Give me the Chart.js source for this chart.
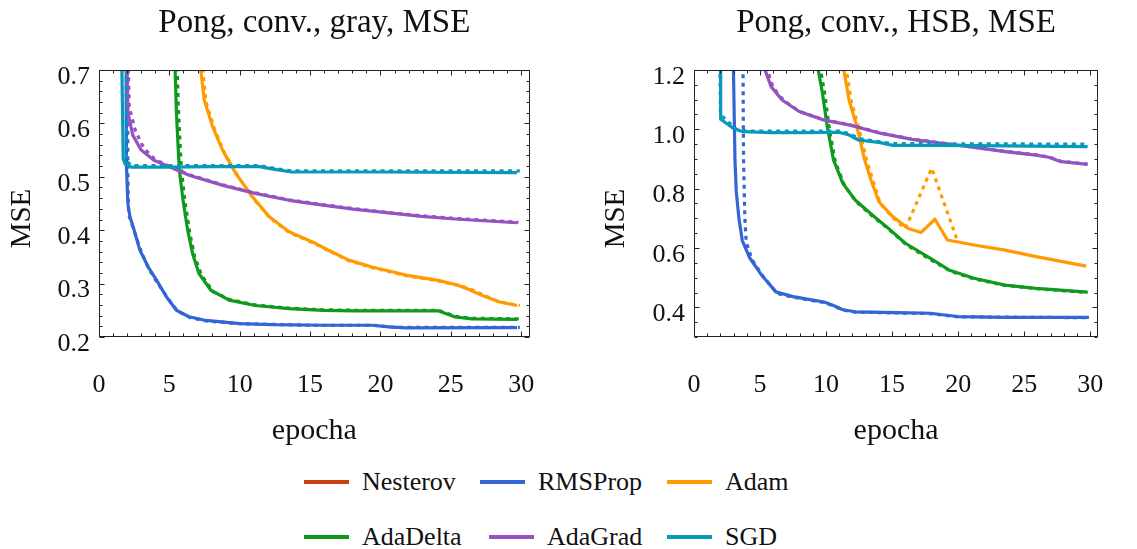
<!DOCTYPE html>
<html>
<head>
<meta charset="utf-8">
<script src="https://cdn.jsdelivr.net/npm/chart.js@4.4.1/dist/chart.umd.min.js"></script>
<style>
  html, body { margin: 0; padding: 0; background: #fff; overflow: hidden; }
  #wrap { position: relative; width: 1137px; height: 549px; font-family: "Liberation Serif", serif; }
  canvas { position: absolute; top: 0; }
  #c1 { left: 0; }
  #c2 { left: 568px; }
  .item { position: absolute; display: flex; align-items: center; height: 30px; font-size: 26px; color: #111; white-space: nowrap; }
  .item .line { display: inline-block; width: 45px; height: 3.5px; margin-right: 13px; }
</style>
</head>
<body>
<div id="wrap">
  <canvas id="c1" width="568" height="460"></canvas>
  <canvas id="c2" width="569" height="460"></canvas>
  <div id="legend"></div>
</div>
<script>
// legend
const methods = ['Nesterov', 'RMSProp', 'Adam', 'AdaDelta', 'AdaGrad', 'SGD'];
const colors = ['#c9400c', '#3366d4', '#ff9a00', '#0f9a1f', '#9553c1', '#0799b9'];

// axes
const epochTicks = [0, 5, 10, 15, 20, 25, 30];
const grayTicks = [0.2, 0.3, 0.4, 0.5, 0.6, 0.7];
const hsbTicks = [0.4, 0.6, 0.8, 1.0, 1.2];

// Pong, conv., gray -- [epoch, MSE], solid and dotted
const grayRMSProp = [[1.9,1.0],[1.95,0.52],[2.05,0.45],[2.2,0.425],[2.5,0.4],[2.9,0.363],[3.5,0.331],[4.1,0.306],[4.8,0.275],[5.5,0.25],[6.4,0.238],[7.6,0.231],[10,0.225],[12.3,0.223],[15.9,0.222],[19.4,0.222],[20.6,0.219],[21.8,0.217],[29.7,0.2175]];
const grayRMSPropDot = [[2.0,1.0],[2.05,0.5],[2.1,0.43],[2.6,0.39],[3.0,0.36],[3.5,0.33],[4.1,0.303],[4.9,0.272],[5.6,0.248],[6.5,0.236],[7.6,0.23],[10,0.225],[15,0.222],[19.5,0.222],[21,0.218],[29.9,0.218]];
const grayAdam = [[7.0,0.75],[7.48,0.644],[8.07,0.594],[8.78,0.55],[9.73,0.506],[10.9,0.4625],[12.1,0.425],[13.5,0.397],[15.4,0.375],[16.3,0.3625],[17.75,0.344],[19.4,0.331],[21.8,0.316],[24.1,0.306],[25.5,0.297],[26.2,0.29],[27.2,0.278],[28.4,0.266],[29.7,0.259]];
const grayAdamDot = [[7.2,0.75],[7.6,0.64],[8.2,0.59],[8.9,0.545],[9.9,0.5],[11,0.458],[12.2,0.422],[13.5,0.396],[15.4,0.374],[16.3,0.362],[17.75,0.343],[19.4,0.33],[21.8,0.315],[24.1,0.305],[25.5,0.297],[26.2,0.292],[27.2,0.28],[28.4,0.266],[29.9,0.259]];
const grayAdaDelta = [[5.3,0.8],[5.5,0.62],[5.7,0.515],[5.95,0.46],[6.3,0.4],[6.65,0.356],[7.1,0.319],[7.95,0.2875],[9.25,0.269],[11.1,0.259],[13.5,0.253],[15.9,0.25],[18.2,0.249],[24.1,0.249],[25.3,0.2375],[26.5,0.234],[29.7,0.233]];
const grayAdaDeltaDot = [[5.45,0.8],[5.65,0.62],[5.85,0.515],[6.1,0.455],[6.45,0.395],[6.8,0.35],[7.3,0.315],[8.1,0.285],[9.3,0.27],[11.1,0.26],[13.5,0.254],[15.9,0.251],[18.2,0.25],[24.1,0.25],[25.3,0.239],[26.5,0.235],[29.9,0.234]];
const grayAdaGrad = [[1.95,0.75],[2.05,0.621],[2.4,0.578],[3.0,0.55],[3.9,0.531],[5.0,0.519],[6.4,0.503],[8.8,0.484],[11.1,0.469],[13.5,0.456],[15.9,0.447],[18.2,0.439],[20.6,0.4325],[22.9,0.426],[25.3,0.421],[29.7,0.414]];
const grayAdaGradDot = [[2.05,0.75],[2.15,0.63],[2.6,0.585],[3.2,0.553],[4.0,0.532],[5.0,0.52],[6.4,0.504],[8.8,0.485],[11.1,0.47],[13.5,0.457],[15.9,0.448],[18.2,0.44],[20.6,0.433],[22.9,0.427],[25.3,0.422],[29.8,0.415]];
const graySGD = [[1.6,0.75],[1.72,0.534],[1.85,0.524],[2.3,0.518],[5,0.518],[8,0.519],[11.4,0.519],[12.5,0.514],[13.7,0.509],[20,0.509],[29.7,0.508]];
const graySGDDot = [[1.93,0.75],[1.95,0.53],[2.3,0.521],[11.4,0.521],[12.6,0.515],[13.7,0.511],[29.9,0.511]];

// Pong, conv., HSB
const hsbRMSProp = [[2.95,1.3],[3.1,0.9],[3.2,0.79],[3.4,0.7],[3.65,0.626],[4.2,0.568],[5.13,0.508],[6.2,0.452],[7.5,0.436],[8.9,0.425],[9.85,0.418],[10.56,0.406],[11.27,0.392],[12.2,0.385],[15.3,0.382],[17.9,0.38],[18.8,0.375],[20.0,0.369],[23.55,0.366],[29.9,0.366]];
const hsbRMSPropDot = [[3.7,1.3],[3.75,0.9],[3.85,0.7],[3.95,0.62],[4.4,0.56],[5.3,0.5],[6.3,0.447],[7.5,0.434],[8.9,0.423],[9.85,0.416],[10.56,0.405],[11.27,0.391],[12.2,0.384],[15.3,0.381],[17.9,0.379],[18.8,0.374],[20,0.368],[29.9,0.365]];
const hsbAdam = [[10.95,1.3],[11.74,1.099],[12.33,1.009],[12.92,0.897],[13.4,0.829],[14.0,0.756],[15.05,0.706],[16.23,0.666],[17.18,0.652],[18.24,0.697],[19.19,0.627],[21.2,0.61],[23.55,0.593],[25.9,0.571],[29.7,0.539]];
const hsbAdamDot = [[11.2,1.3],[11.9,1.095],[12.5,1.0],[13.1,0.89],[13.6,0.82],[14.1,0.75],[15.1,0.7],[16.0,0.665],[18.0,0.869],[19.9,0.63]];
const hsbAdaDelta = [[9.0,1.3],[9.73,1.121],[10.09,1.009],[10.56,0.897],[11.27,0.818],[12.2,0.762],[13.63,0.706],[14.57,0.672],[16.0,0.616],[17.9,0.565],[19.3,0.526],[21.2,0.498],[23.55,0.475],[25.9,0.464],[29.8,0.451]];
const hsbAdaDeltaDot = [[9.2,1.3],[9.9,1.12],[10.25,1.0],[10.7,0.89],[11.4,0.81],[12.3,0.755],[13.7,0.7],[14.7,0.665],[16.1,0.61],[18,0.558],[19.4,0.522],[21.2,0.496],[23.55,0.474],[25.9,0.463],[29.8,0.45]];
const hsbAdaGrad = [[5.1,1.27],[5.38,1.2],[5.84,1.144],[6.67,1.099],[7.96,1.06],[9.85,1.031],[11.74,1.015],[14.1,0.987],[16.5,0.966],[18.8,0.953],[21.2,0.939],[23.55,0.925],[25.9,0.913],[26.86,0.906],[27.8,0.891],[29.8,0.882]];
const hsbAdaGradDot = [[5.3,1.27],[5.55,1.2],[6.0,1.14],[6.8,1.097],[8,1.06],[9.85,1.032],[11.74,1.016],[14.1,0.988],[16.5,0.967],[18.8,0.954],[21.2,0.94],[23.55,0.926],[25.9,0.914],[26.86,0.907],[27.8,0.892],[29.8,0.883]];
const hsbSGD = [[2.0,1.3],[2.02,1.034],[3.0,1.003],[3.71,0.992],[5.84,0.989],[8.2,0.989],[10.1,0.99],[11.0,0.99],[11.74,0.981],[12.45,0.964],[14.1,0.955],[15.05,0.946],[18.8,0.946],[23.55,0.944],[29.8,0.942]];
const hsbSGDDot = [[1.95,1.3],[2.0,1.05],[3.2,1.0],[4,0.994],[11,0.994],[11.8,0.985],[12.5,0.968],[14.1,0.958],[15,0.952],[29.9,0.95]];

const FONT = '"Liberation Serif", serif';
const INK = '#111';
Chart.defaults.font.family = FONT;

// frame with inward ticks on all four sides, plus rotated y title
const framePlugin = {
  id: 'frame',
  afterDraw(chart, args, opts) {
    const {ctx, chartArea: a, scales: {x, y}} = chart;
    const L = Math.round(a.left) + 0.5, R = Math.round(a.right) - 0.5;
    const T = Math.round(a.top) + 0.5, B = Math.round(a.bottom) - 0.5;
    ctx.save();
    ctx.strokeStyle = '#222';
    ctx.lineWidth = 1;
    ctx.strokeRect(L, T, R - L, B - T);
    ctx.beginPath();
    for (let v = x.min; v <= x.max + 1e-9; v += opts.xMinor) {
      const px = Math.round(x.getPixelForValue(v)) + 0.5;
      const len = Math.abs(v / opts.xMajor - Math.round(v / opts.xMajor)) < 1e-6 ? 5 : 3;
      ctx.moveTo(px, B); ctx.lineTo(px, B - len);
      ctx.moveTo(px, T); ctx.lineTo(px, T + len);
    }
    const y0 = Math.ceil(y.min / opts.yMinor - 1e-6) * opts.yMinor;
    for (let v = y0; v <= y.max + 1e-9; v += opts.yMinor) {
      const py = Math.round(y.getPixelForValue(v)) + 0.5;
      const len = Math.abs(v / opts.yMajor - Math.round(v / opts.yMajor)) < 1e-6 ? 5 : 3;
      ctx.moveTo(L, py); ctx.lineTo(L + len, py);
      ctx.moveTo(R, py); ctx.lineTo(R - len, py);
    }
    ctx.stroke();
    ctx.translate(a.left - opts.titleDx, (a.top + a.bottom) / 2 + 15);
    ctx.rotate(-Math.PI / 2);
    ctx.fillStyle = INK;
    ctx.font = '29px ' + FONT;
    ctx.textAlign = 'center';
    ctx.textBaseline = 'middle';
    ctx.fillText(opts.yTitle, 0, 0);
    ctx.restore();
  }
};

function makeChart(id, title, yMin, yMax, yTicks, yMajor, yMinor, yWidth, padRight, titleDx, series) {
  const datasets = [];
  series.forEach(([solid, dotted, color], i) => {
    datasets.push({
      data: dotted.map(([x, y]) => ({x, y})),
      borderColor: color, borderWidth: 3.2, borderDash: [4, 4.5], borderCapStyle: 'butt',
      pointRadius: 0, tension: 0, fill: false, clip: 0, order: 20 - 2 * i
    });
    datasets.push({
      data: solid.map(([x, y]) => ({x, y})),
      borderColor: color, borderWidth: 3.2, borderJoinStyle: 'round',
      pointRadius: 0, tension: 0, fill: false, clip: 0, order: 21 - 2 * i
    });
  });

  return new Chart(document.getElementById(id), {
    type: 'line',
    data: {datasets},
    plugins: [framePlugin],
    options: {
      responsive: false,
      animation: false,
      events: [],
      layout: {padding: {left: 0, right: padRight, top: 0, bottom: 0}},
      plugins: {
        legend: {display: false},
        tooltip: {enabled: false},
        title: {
          display: true, text: title, fullSize: false, color: INK,
          font: {size: 33, weight: 'normal'},
          padding: {top: 4, bottom: 26.4}
        },
        frame: {xMajor: 5, xMinor: 1, yMajor: yMajor, yMinor: yMinor, yTitle: 'MSE', titleDx: titleDx}
      },
      scales: {
        x: {
          type: 'linear', min: 0, max: 30.6,
          grid: {display: false, drawTicks: false}, border: {display: false},
          afterBuildTicks: s => { s.ticks = epochTicks.map(v => ({value: v})); },
          afterFit: s => { s.height = 123; },
          ticks: {padding: 33, maxRotation: 0, autoSkip: false, color: INK,
                  font: {size: 26}, callback: v => String(v)},
          title: {display: true, text: 'epocha', color: INK,
                  font: {size: 30}, padding: {top: 0, bottom: 11}}
        },
        y: {
          min: yMin, max: yMax,
          grid: {display: false, drawTicks: false}, border: {display: false},
          afterBuildTicks: s => { s.ticks = yTicks.map(v => ({value: v})); },
          afterFit: s => { s.width = yWidth; },
          ticks: {padding: 9, labelOffset: 7, autoSkip: false, color: INK,
                  font: {size: 26}, callback: v => v.toFixed(1)}
        }
      }
    }
  });
}

makeChart('c1', 'Pong, conv., gray, MSE', 0.2, 0.7, grayTicks, 0.1, 0.02, 99, 36, 77, [
  [grayRMSProp, grayRMSPropDot, colors[1]],
  [grayAdam, grayAdamDot, colors[2]],
  [grayAdaDelta, grayAdaDeltaDot, colors[3]],
  [grayAdaGrad, grayAdaGradDot, colors[4]],
  [graySGD, graySGDDot, colors[5]]
]);

makeChart('c2', 'Pong, conv., HSB, MSE', 0.3, 1.2, hsbTicks, 0.2, 0.05, 126, 11, 78, [
  [hsbRMSProp, hsbRMSPropDot, colors[1]],
  [hsbAdam, hsbAdamDot, colors[2]],
  [hsbAdaDelta, hsbAdaDeltaDot, colors[3]],
  [hsbAdaGrad, hsbAdaGradDot, colors[4]],
  [hsbSGD, hsbSGDDot, colors[5]]
]);

// legend grid: 3 columns, 2 rows
const legendLeft = [304, 480, 667, 304, 489, 667];
const legendTop = [467, 467, 467, 522, 522, 522];
const legend = document.getElementById('legend');
methods.forEach((name, i) => {
  const item = document.createElement('div');
  item.className = 'item';
  item.style.left = legendLeft[i] + 'px';
  item.style.top = legendTop[i] + 'px';
  const line = document.createElement('span');
  line.className = 'line';
  line.style.background = colors[i];
  item.appendChild(line);
  item.appendChild(document.createTextNode(name));
  legend.appendChild(item);
});
</script>
</body>
</html>
